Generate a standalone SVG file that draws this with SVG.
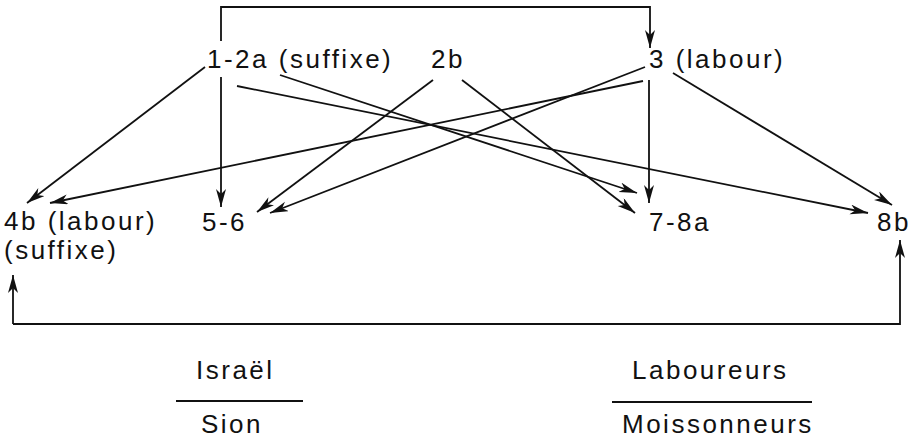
<svg xmlns="http://www.w3.org/2000/svg" width="913" height="441" viewBox="0 0 913 441">
<defs>
<marker id="ah" markerUnits="userSpaceOnUse" markerWidth="20" markerHeight="12" refX="18" refY="5" orient="auto">
<path d="M0,0 L18,5 L0,10 L5,5 z" fill="#111"/>
</marker>
<style>
.t{font-family:"Liberation Sans",Arial,sans-serif;font-size:26px;letter-spacing:2.5px;fill:#111}
.c{fill:none;stroke:#111;stroke-width:1.8}
.a{marker-end:url(#ah)}
</style>
</defs>
<rect width="913" height="441" fill="#fff"/>
<g id="connectors">
<polyline class="c a" points="221,41 221,7 650,7 650,48"/>
<line class="c a" x1="205" y1="67" x2="27" y2="203"/>
<line class="c a" x1="221" y1="77" x2="221" y2="207"/>
<line class="c a" x1="280" y1="75" x2="637" y2="193"/>
<line class="c a" x1="237" y1="86" x2="868" y2="213"/>
<line class="c a" x1="433" y1="80" x2="257" y2="212"/>
<line class="c a" x1="462" y1="80" x2="635" y2="213"/>
<line class="c a" x1="643" y1="81" x2="50" y2="203"/>
<line class="c a" x1="645" y1="67" x2="270" y2="213"/>
<line class="c a" x1="649" y1="80" x2="649" y2="203"/>
<line class="c a" x1="673" y1="73" x2="892" y2="205"/>
<polyline class="c a" points="13,324 13,275"/>
<polyline class="c a" points="13,324 900,324 900,240"/>
<line class="c" x1="176" y1="401" x2="303" y2="401"/>
<line class="c" x1="612" y1="402" x2="812" y2="402"/>
</g>
<g id="n12a"><text class="t" x="207" y="68">1-2a (suffixe)</text></g>
<g id="n2b"><text class="t" x="431" y="68">2b</text></g>
<g id="n3"><text class="t" x="649" y="68">3 (labour)</text></g>
<g id="n4b"><text class="t" x="4" y="230">4b (labour)</text><text class="t" x="4" y="259">(suffixe)</text></g>
<g id="n56"><text class="t" x="202" y="231">5-6</text></g>
<g id="n78a"><text class="t" x="649" y="231">7-8a</text></g>
<g id="n8b"><text class="t" x="877" y="231">8b</text></g>
<g id="israel"><text class="t" x="196" y="379">Israël</text><text class="t" x="201" y="433">Sion</text></g>
<g id="laboureurs"><text class="t" x="632" y="379">Laboureurs</text><text class="t" x="622" y="433">Moissonneurs</text></g>
</svg>
